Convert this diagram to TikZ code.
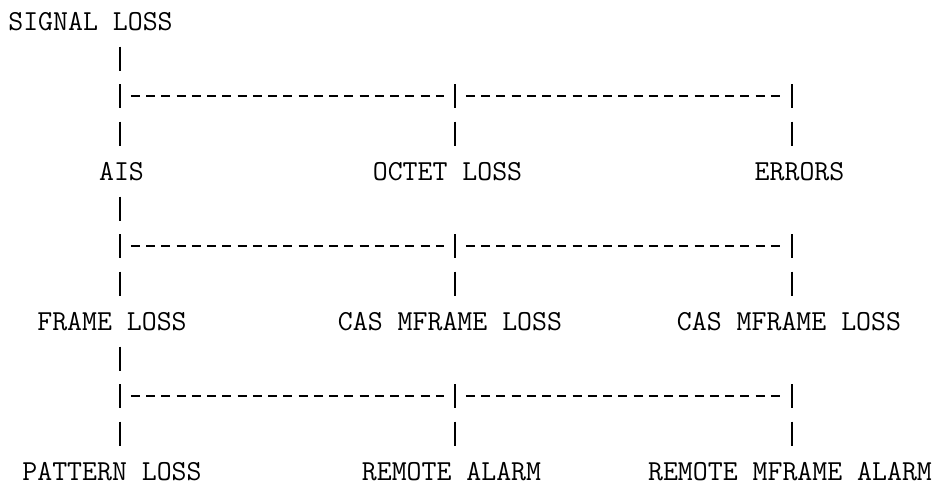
\documentclass[tikz,border=0pt]{standalone}
\usepackage{fontspec}
\begin{document}
\begin{tikzpicture}[x=1pt,y=-1pt,
  lbl/.style={font={\fontsize{29}{30}\selectfont\ttfamily\addfontfeatures{FakeBold=0.4}}, inner sep=0pt, anchor=base},
  pipes/.style={line width=2.6pt, dash pattern=on 24pt off 13.5pt},
  dashrow/.style={line width=1.8pt, dash pattern=on 9pt off 6.25pt}]
\useasboundingbox (0,0) rectangle (939,485);
% labels
\node[lbl] (sig)  at (90.5,30)  {SIGNAL LOSS};
\node[lbl] (ais)  at (121.5,180) {AIS};
\node[lbl] (oct)  at (447.5,180) {OCTET LOSS};
\node[lbl] (err)  at (799.5,180) {ERRORS};
\node[lbl] (frm)  at (112,330)  {FRAME LOSS};
\node[lbl] (casm) at (450,330)  {CAS MFRAME LOSS};
\node[lbl] (casr) at (789,330)  {CAS MFRAME LOSS};
\node[lbl] (pat)  at (112,480)  {PATTERN LOSS};
\node[lbl] (rem)  at (451.5,480) {REMOTE ALARM};
\node[lbl] (rma)  at (790,480)  {REMOTE MFRAME ALARM};
% junction coordinates and connectors
\foreach \g/\t in {a/0,b/150,c/300}{
  \coordinate (\g Ltop) at (120,46.5+\t);
  \coordinate (\g Lbot) at (120,145.5+\t);
  \coordinate (\g Mtop) at (455,84+\t);
  \coordinate (\g Mbot) at (455,145.5+\t);
  \coordinate (\g Rtop) at (792,84+\t);
  \coordinate (\g Rbot) at (792,145.5+\t);
  \coordinate (\g h1) at (130.75,96+\t);
  \coordinate (\g h2) at (444.25,96+\t);
  \coordinate (\g h3) at (465.75,96+\t);
  \coordinate (\g h4) at (781.25,96+\t);
  \draw[pipes] (\g Ltop) -- (\g Lbot);
  \draw[pipes] (\g Mtop) -- (\g Mbot);
  \draw[pipes] (\g Rtop) -- (\g Rbot);
  \draw[dashrow] (\g h1) -- (\g h2);
  \draw[dashrow] (\g h3) -- (\g h4);
}
\end{tikzpicture}
\end{document}
